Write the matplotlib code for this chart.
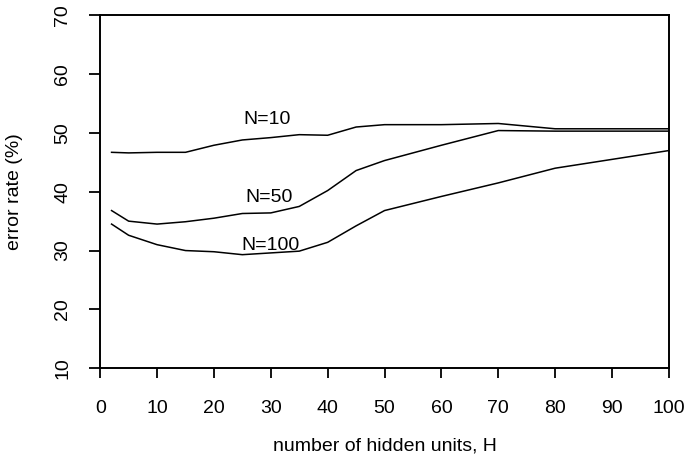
import matplotlib
matplotlib.use("Agg")
import matplotlib.pyplot as plt

plt.rcParams['font.family'] = ['Liberation Sans', 'DejaVu Sans']

# error rate vs. number of hidden units, one curve per training set size
h_units = [2, 5, 10, 15, 20, 25, 30, 35, 40, 45, 50, 60, 70, 80, 90, 100]
err_n10 = [46.7, 46.6, 46.7, 46.7, 47.9, 48.8, 49.2, 49.7, 49.6, 51.0, 51.4, 51.4, 51.6, 50.7, 50.7, 50.7]
err_n50 = [36.8, 35.0, 34.5, 34.9, 35.5, 36.3, 36.4, 37.5, 40.2, 43.6, 45.3, 47.9, 50.4, 50.3, 50.3, 50.3]
err_n100 = [34.5, 32.6, 31.0, 30.0, 29.8, 29.3, 29.6, 29.9, 31.4, 34.2, 36.8, 39.2, 41.5, 44.0, 45.5, 47.0]

curve_labels = ["N=10", "N=50", "N=100"]
label_pos = [(29.4, 52.2), (29.7, 39.1), (29.9, 30.9)]

fs = 14

fig = plt.figure(figsize=(6.91, 4.62), dpi=100)
ax = fig.add_axes([0.145, 0.203, 0.823, 0.764])

for ys in (err_n10, err_n50, err_n100):
    ax.plot(h_units, ys, color='black', linewidth=1.1)

for text, (x, y) in zip(curve_labels, label_pos):
    ax.text(x, y, text, ha='center', va='center', fontsize=fs)

ax.set_xlim(0, 100)
ax.set_ylim(10, 70)
ax.set_xticks(range(0, 101, 10))
ax.set_yticks(range(10, 71, 10))

for side in ax.spines.values():
    side.set_linewidth(1.4)

ax.tick_params(axis='x', direction='out', length=7, width=1.3, pad=16, labelsize=fs)
ax.tick_params(axis='y', direction='out', length=8, width=1.3, pad=13, labelsize=fs)
for lbl in ax.get_yticklabels():
    lbl.set_rotation(90)
    lbl.set_va('center')

ax.set_xlabel("number of hidden units, H", fontsize=fs, labelpad=15)
ax.set_ylabel("error rate (%)", fontsize=fs, labelpad=22)

fig.savefig("out.png", dpi=100)
